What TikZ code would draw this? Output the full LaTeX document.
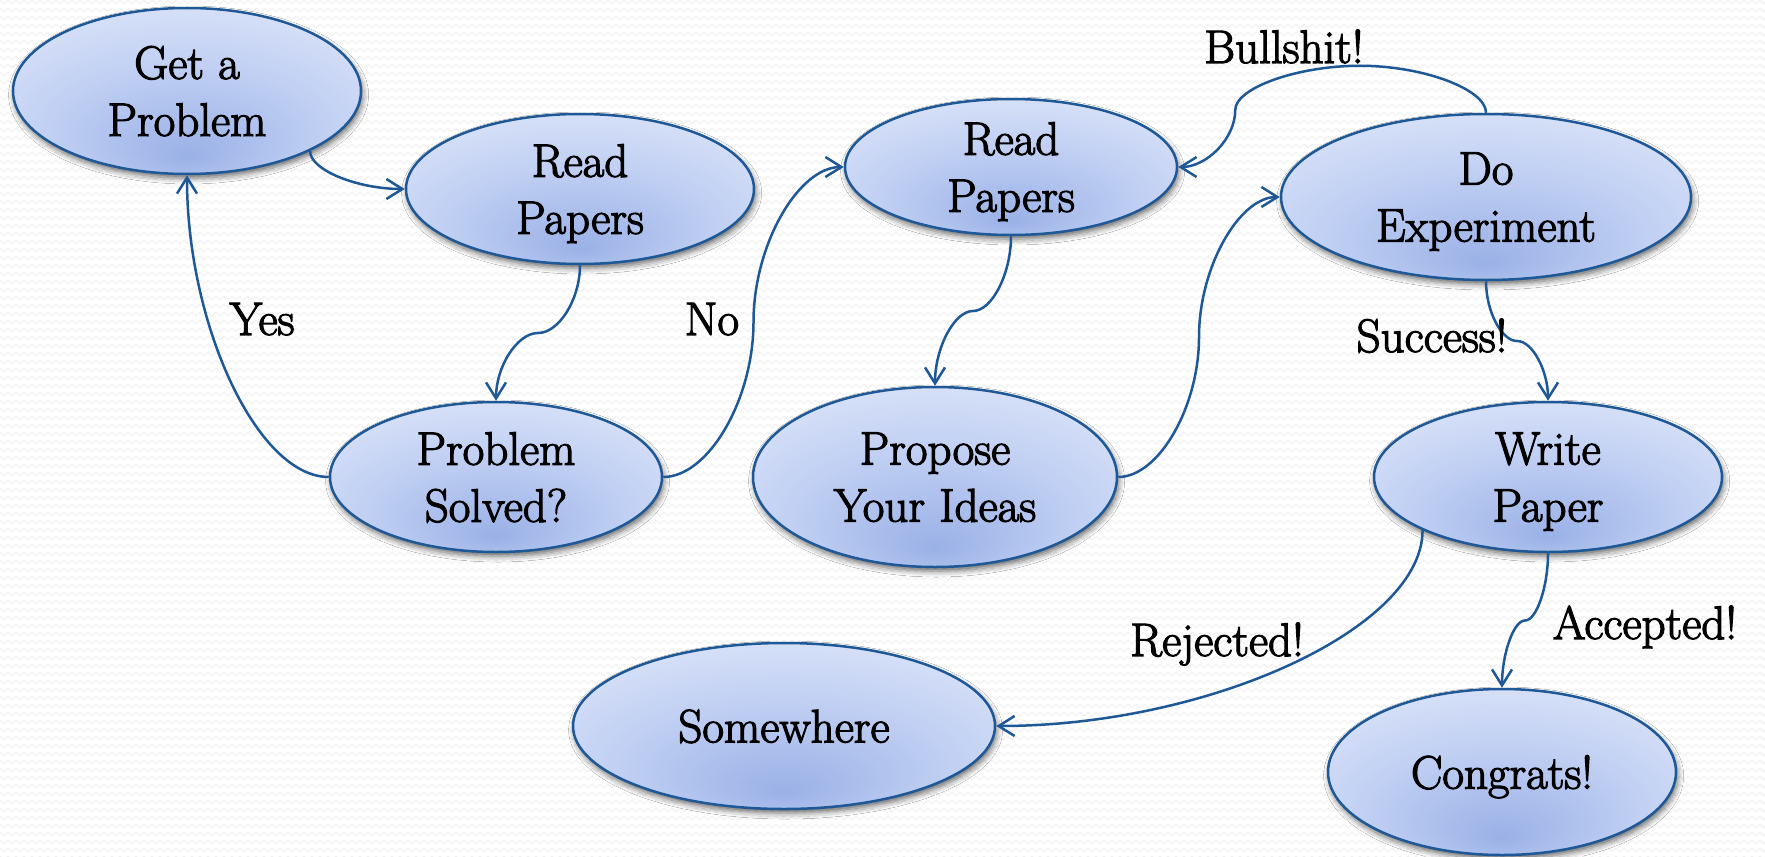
\documentclass[tikz,border=0pt]{standalone}
\usepackage{fontspec}
\newfontfamily\diagface{Latin Modern Roman}[FakeBold=2.5,BoldFont={Latin Modern Roman}]
\usetikzlibrary{shapes.geometric,arrows.meta,calc,shadows.blur,decorations.pathmorphing}
\definecolor{edgeblue}{RGB}{31,88,150}
\definecolor{bdk}{RGB}{154,177,231}
\definecolor{bmd}{RGB}{193,208,243}
\definecolor{blt}{RGB}{230,236,251}
\pgfdeclareradialshading[bdk,bmd,blt]{bubble}{\pgfpoint{0bp}{-20bp}}{color(0bp)=(bdk); color(20bp)=(bmd); color(42bp)=(blt); color(50bp)=(blt)}
\newcommand\diagfont{\diagface\bfseries\fontsize{23.5}{28.5}\selectfont}
\newcommand\vsconn[3]{%
  \coordinate (#3a) at ($(#1)!0.25!(#2)$);
  \coordinate (#3m) at ($(#1)!0.5!(#2)$);
  \coordinate (#3b) at ($(#1)!0.75!(#2)$);
  \draw[conn] (#1) .. controls (#1 |- #3a) and (#3a |- #3m) .. (#3m)
    .. controls (#3b |- #3m) and (#2 |- #3b) .. (#2);}
\newcommand\hsconn[3]{%
  \coordinate (#3a) at ($(#1)!0.25!(#2)$);
  \coordinate (#3m) at ($(#1)!0.5!(#2)$);
  \coordinate (#3b) at ($(#1)!0.75!(#2)$);
  \draw[conn] (#1) .. controls (#3a |- #1) and (#3m |- #3a) .. (#3m)
    .. controls (#3m |- #3b) and (#3b |- #2) .. (#2);}
\newcommand\vhconn[3]{%
  \coordinate (#3m) at ($(#1)!0.5!(#2)$);
  \draw[conn] (#1) .. controls (#1 |- #3m) and (#3m |- #2) .. (#2);}
\newcommand\hvconn[3]{%
  \coordinate (#3m) at ($(#1)!0.5!(#2)$);
  \draw[conn] (#1) .. controls (#3m |- #1) and (#2 |- #3m) .. (#2);}
\tikzset{
  bub/.style={ellipse, draw=edgeblue, line width=1.25pt, shading=bubble,
    inner sep=0pt, align=center, font=\diagfont, text depth=0pt,
    blur shadow={shadow xshift=0.8pt, shadow yshift=-2pt, shadow blur radius=3pt, shadow opacity=60}},
  conn/.style={draw=edgeblue, line width=1.25pt, -{Straight Barb[length=8pt,width=10pt]}},
  lab/.style={font=\diagfont, anchor=base, inner sep=0pt},
  wave/.style={black!6, line width=0.5pt, decorate,
    decoration={zigzag, segment length=4pt, amplitude=0.9pt}}
}
\begin{document}
\begin{tikzpicture}[x=0.5pt,y=-0.5pt]
\useasboundingbox (0,0) rectangle (1765,856);
\begin{scope}
  \clip (0,0) rectangle (1765,856);
  \fill[white] (0,0) rectangle (1765,856);
  \foreach \yy in {2,10,...,858} \draw[wave] (-10,\yy) -- (1775,\yy);
\end{scope}

\node[bub, minimum width=174pt, minimum height=83pt] (gp)  at (187,91)   {Get a\\Problem};
\node[bub, minimum width=174pt, minimum height=75pt] (rp1) at (580,189)  {Read\\Papers};
\node[bub, minimum width=166pt, minimum height=75pt] (ps)  at (496,477)  {Problem\\Solved?};
\node[bub, minimum width=166pt, minimum height=68pt] (rp2) at (1011,167) {Read\\Papers};
\node[bub, minimum width=182pt, minimum height=90pt] (pi)  at (935,477)  {Propose\\Your Ideas};
\node[bub, minimum width=205pt, minimum height=83pt] (de)  at (1486,197) {Do\\Experiment};
\node[bub, minimum width=174pt, minimum height=75pt] (wp)  at (1548,477) {Write\\Paper};
\node[bub, minimum width=211pt, minimum height=83pt] (sw)  at (784,726)  {Somewhere};
\node[bub, minimum width=174pt, minimum height=83pt] (cg)  at (1502,772) {Congrats!};

\coordinate (s1) at (gp.-26);
\vhconn{s1}{rp1.west}{e1}
\vsconn{rp1.south}{ps.north}{e2}
\hvconn{ps.west}{gp.south}{e3}
\hsconn{ps.east}{rp2.west}{e4}
\vsconn{rp2.south}{pi.north}{e5}
\hsconn{pi.east}{de.west}{e6}

\coordinate (bsP) at ($(de.north)+(-126,-47)$);
\coordinate (bsV) at ($(rp2.east)+(57,-57)$);
\coordinate (bs1) at ($(de.north)!0.5!(bsP)$);
\coordinate (bs2) at ($(bsP)!0.5!(bsV)$);
\coordinate (bs3) at ($(bsV)!0.5!(rp2.east)$);
\draw[conn] (de.north) .. controls (de.north |- bs1) and (bs1 |- bsP) .. (bsP)
  .. controls (bs2 |- bsP) and (bsV |- bs2) .. (bsV)
  .. controls (bsV |- bs3) and (bs3 |- rp2.east) .. (rp2.east);

\vsconn{de.south}{wp.north}{e8}
\coordinate (s9) at (wp.203.7);
\vhconn{s9}{sw.east}{e9}
\vsconn{wp.south}{cg.north}{e10}

\node[lab] (lyes) at (262,335)  {Yes};
\node[lab] (lno)  at (712,335)  {No};
\node[lab] (lbs)  at (1284,63)  {Bullshit!};
\node[lab] (lsu)  at (1432,352) {Success!};
\node[lab] (lrj)  at (1217,656) {Rejected!};
\node[lab] (lac)  at (1645,639) {Accepted!};
\end{tikzpicture}
\end{document}
